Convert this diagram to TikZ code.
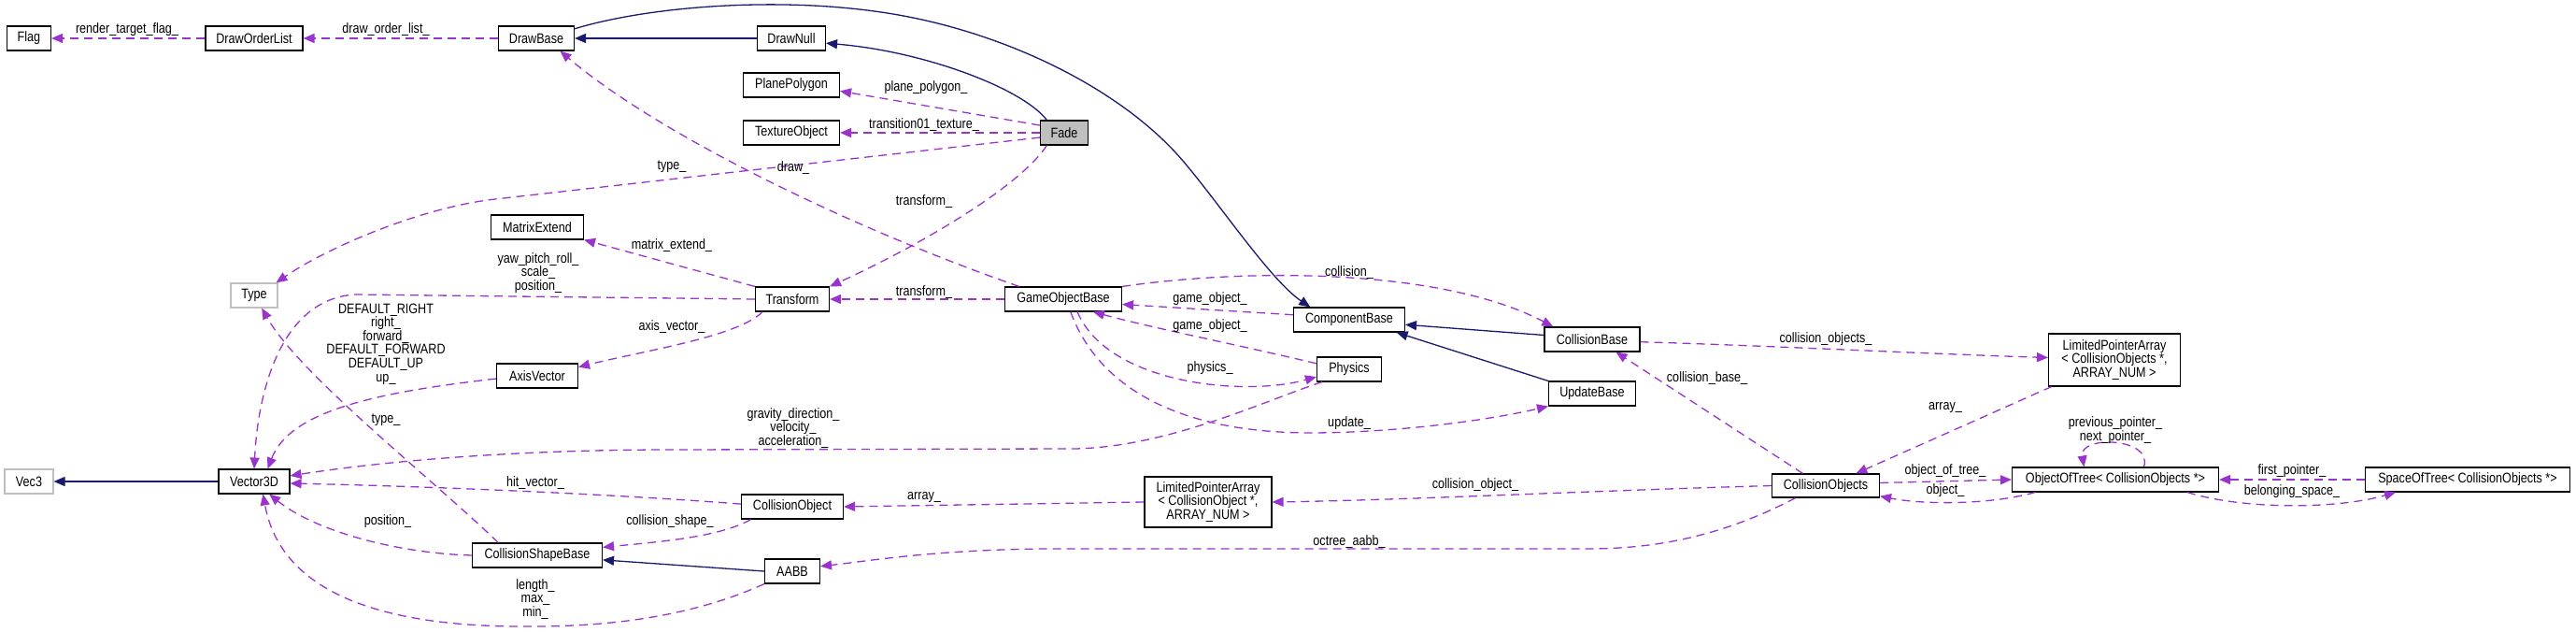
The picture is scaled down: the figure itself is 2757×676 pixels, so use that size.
\documentclass[tikz,border=0pt]{standalone}
\usepackage{fontspec}
\setmainfont{Liberation Sans}[FakeStretch=0.84]
\usetikzlibrary{arrows.meta}
\definecolor{usec}{HTML}{9A32CD}
\definecolor{inhc}{HTML}{191970}
\definecolor{grayb}{HTML}{BFBFBF}
\newcommand\dfnt{\fontsize{15}{14.6}\selectfont}
\begin{document}
\begin{tikzpicture}[x=1pt,y=-1pt,
  cls/.style={draw=black,line width=1.1pt,fill=white,minimum height=26pt,inner sep=0pt,font=\dfnt,align=center},
  extcls/.style={cls,draw=grayb},
  usearr/.style={draw=usec,line width=1.3pt,dash pattern=on 9pt off 6pt,-{Triangle[length=12pt,width=10pt,fill=usec]}},
  inharr/.style={draw=inhc,line width=1.3pt,-{Triangle[length=12pt,width=10pt,fill=inhc]}},
  lab/.style={font=\dfnt,inner sep=0pt,align=center}]
\useasboundingbox (0,0) rectangle (2757,676);
% nodes
\node[cls,minimum width=47pt] (flag) at (31,41) {Flag};
\node[cls,minimum width=104pt] (dol) at (272,41) {DrawOrderList};
\node[cls,minimum width=81pt] (drawbase) at (574,41) {DrawBase};
\node[cls,minimum width=73pt] (drawnull) at (847,41) {DrawNull};
\node[cls,minimum width=103pt] (plane) at (847,91) {PlanePolygon};
\node[cls,minimum width=103pt] (texture) at (847,142) {TextureObject};
\node[cls,minimum width=51pt,fill=grayb] (fade) at (1139,142) {Fade};
\node[cls,minimum width=99pt] (matrix) at (575,243) {MatrixExtend};
\node[extcls,minimum width=50pt] (type) at (272,316) {Type};
\node[cls,minimum width=79pt] (transform) at (848,320) {Transform};
\node[cls,minimum width=125pt] (gob) at (1138,320) {GameObjectBase};
\node[cls,minimum width=87pt] (axis) at (575,402) {AxisVector};
\node[extcls,minimum width=52pt] (vec3) at (31,515) {Vec3};
\node[cls,minimum width=76pt] (vector3d) at (272,515) {Vector3D};
\node[cls,minimum width=109pt] (cobj) at (848,542) {CollisionObject};
\node[cls,minimum width=136pt,minimum height=54pt] (lpa1) at (1293,537) {LimitedPointerArray\\{}< CollisionObject *,\\ARRAY\_NUM >};
\node[cls,minimum width=139pt] (csb) at (575,594) {CollisionShapeBase};
\node[cls,minimum width=59pt] (aabb) at (848,611) {AABB};
\node[cls,minimum width=119pt] (compbase) at (1444,342) {ComponentBase};
\node[cls,minimum width=102pt] (collbase) at (1704,363) {CollisionBase};
\node[cls,minimum width=69pt] (physics) at (1444,395) {Physics};
\node[cls,minimum width=93pt] (update) at (1704,421) {UpdateBase};
\node[cls,minimum width=141pt,minimum height=56pt] (lpa2) at (2263,385) {LimitedPointerArray\\{}< CollisionObjects *,\\ARRAY\_NUM >};
\node[cls,minimum width=115pt,minimum height=25pt] (cobjs) at (1954,519.5) {CollisionObjects};
\node[cls,minimum width=221pt] (oot) at (2264,513) {ObjectOfTree< CollisionObjects *>};
\node[cls,minimum width=219pt] (sot) at (2641,513) {SpaceOfTree< CollisionObjects *>};
% edges
\draw[usearr] (dol.west) -- (flag.east);
\draw[usearr] (drawbase.west) -- (dol.east);
\draw[inharr] (drawnull.west) -- (drawbase.east);
\draw[inharr] (fade.144) .. controls (1095,95) and (990,55) .. (drawnull.-8);
\draw[inharr] (drawbase.14) .. controls (700,5) and (850,-5) .. (967,17) .. controls (1080,38) and (1200,95) .. (1266,172) .. controls (1306,219) and (1360,300) .. (compbase.162);
\draw[usearr] (fade.163) -- (plane.-7);
\draw[usearr] (fade.west) -- (texture.east);
\draw[usearr] (fade.191) -- (530,213) .. controls (450,222) and (350,265) .. (type.30);
\draw[usearr] (gob.164) .. controls (900,240) and (700,140) .. (drawbase.-28);
\draw[usearr] (fade.-144) .. controls (1095,195) and (1000,255) .. (transform.north east);
\draw[usearr] (transform.north west) -- (matrix.south east);
\draw[usearr] (transform.west) -- (380,315) .. controls (300,320) and (276,420) .. (vector3d.north);
\draw[usearr] (transform.-157) .. controls (790,360) and (690,375) .. (axis.12);
\draw[usearr] (axis.184) .. controls (400,420) and (310,440) .. (vector3d.43);
\draw[usearr] (csb.162) .. controls (460,510) and (320,400) .. (type.-59);
\draw[inharr] (vector3d.west) -- (vec3.east);
\draw[usearr] (physics.-155) .. controls (1350,430) and (1250,478) .. (1150,480) -- (720,481) .. controls (560,481) and (420,492) .. (vector3d.9);
\draw[usearr] (cobj.177) .. controls (650,528) and (450,520) .. (vector3d.-3);
\draw[usearr] (csb.west) .. controls (430,592) and (340,570) .. (vector3d.-40);
\draw[usearr] (aabb.south west) .. controls (740,660) and (650,670) .. (572,670) .. controls (400,672) and (300,630) .. (vector3d.-55);
\draw[usearr] (cobj.-163) .. controls (770,575) and (700,580) .. (csb.7);
\draw[inharr] (aabb.west) -- (csb.-4);
\draw[usearr] (lpa1.west) -- (cobj.east);
\draw[usearr] (cobjs.west) .. controls (1700,525) and (1500,535) .. (lpa1.east);
\draw[usearr] (cobjs.-158) .. controls (1850,570) and (1780,587) .. (1700,587) -- (1120,587) .. controls (1000,588) and (930,600) .. (aabb.10);
\draw[usearr] (gob.west) -- (transform.east);
\draw[usearr] (compbase.175) -- (gob.-5);
\draw[usearr] (physics.170) .. controls (1330,370) and (1230,350) .. (gob.-23);
\draw[usearr] (gob.-42) .. controls (1185,410) and (1330,425) .. (physics.193);
\draw[usearr] (gob.-60) .. controls (1170,400) and (1240,462) .. (1400,463) .. controls (1500,463) and (1600,448) .. (update.south west);
\draw[usearr] (gob.north east) .. controls (1350,285) and (1550,290) .. (collbase.162);
\draw[inharr] (collbase.175) -- (compbase.-5);
\draw[inharr] (update.north west) -- (compbase.-15);
\draw[usearr] (collbase.-3) .. controls (1900,370) and (2050,378) .. (lpa2.178);
\draw[usearr] (cobjs.152) -- (collbase.-28);
\draw[usearr] (lpa2.-157) -- (cobjs.22);
\draw[usearr] (cobjs.3) -- (oot.west);
\draw[usearr] (oot.-171) .. controls (2130,540) and (2060,540) .. (cobjs.-11);
\draw[usearr] (oot.24) .. controls (2305,468) and (2225,465) .. (oot.158);
\draw[usearr] (sot.west) -- (oot.east);
\draw[usearr] (oot.-10) .. controls (2400,545) and (2500,545) .. (sot.-170);
% labels
\node[lab] (l1) at (136,32) {render\_target\_flag\_};
\node[lab] (l2) at (413,32) {draw\_order\_list\_};
\node[lab] (l3) at (991,94) {plane\_polygon\_};
\node[lab] (l4) at (989,134) {transition01\_texture\_};
\node[lab] (l5) at (719,178) {type\_};
\node[lab] (l6) at (849,180) {draw\_};
\node[lab] (l7) at (989,216) {transform\_};
\node[lab] (l8) at (719,263) {matrix\_extend\_};
\node[lab] (l9) at (576,292) {yaw\_pitch\_roll\_\\scale\_\\position\_};
\node[lab] (l10) at (989,313) {transform\_};
\node[lab] (l11) at (1295,320) {game\_object\_};
\node[lab] (l12) at (413,368) {DEFAULT\_RIGHT\\right\_\\forward\_\\DEFAULT\_FORWARD\\DEFAULT\_UP\\up\_};
\node[lab] (l13) at (1295,349) {game\_object\_};
\node[lab] (l14) at (719,350) {axis\_vector\_};
\node[lab] (l15) at (1295,394) {physics\_};
\node[lab] (l16) at (413,449) {type\_};
\node[lab] (l17) at (849,458) {gravity\_direction\_\\velocity\_\\acceleration\_};
\node[lab] (l18) at (573,517) {hit\_vector\_};
\node[lab] (l19) at (989,532) {array\_};
\node[lab] (l20) at (415,558) {position\_};
\node[lab] (l21) at (717,558) {collision\_shape\_};
\node[lab] (l22) at (573,641) {length\_\\max\_\\min\_};
\node[lab] (l23) at (1444,292) {collision\_};
\node[lab] (l24) at (1444,453) {update\_};
\node[lab] (l25) at (1954,363) {collision\_objects\_};
\node[lab] (l26) at (1827,405) {collision\_base\_};
\node[lab] (l27) at (2082,436) {array\_};
\node[lab] (l28) at (2264,460) {previous\_pointer\_\\next\_pointer\_};
\node[lab] (l29) at (1579,519) {collision\_object\_};
\node[lab] (l30) at (2082,504) {object\_of\_tree\_};
\node[lab] (l31) at (2082,525) {object\_};
\node[lab] (l32) at (2453,504) {first\_pointer\_};
\node[lab] (l33) at (2453,526) {belonging\_space\_};
\node[lab] (l34) at (1444,580) {octree\_aabb\_};
\end{tikzpicture}
\end{document}
